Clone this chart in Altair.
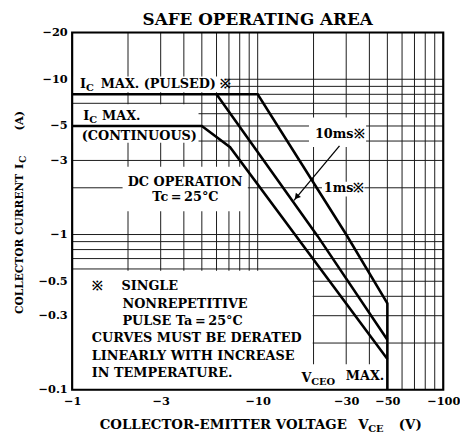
import altair as alt
import pandas as pd

FONT = "DejaVu Serif"

# ---- axis domains (magnitudes of VCE in V and IC in A) ----
x_domain = [1, 100]
y_domain = [0.1, 20]

# ---- grid (log-log) ----
grid_volts = [2, 3, 4, 5, 6, 7, 8, 9, 10, 20, 30, 40, 50, 60, 70, 80, 90]
grid_amps = [0.2, 0.3, 0.4, 0.5, 0.6, 0.7, 0.8, 0.9, 1, 2, 3, 4, 5, 6, 7, 8, 9, 10]

# ---- tick labels (magnitudes; shown with a minus sign) ----
x_ticks = [1, 3, 10, 30, 50, 100]
y_ticks = [0.1, 0.3, 0.5, 1, 3, 5, 10, 20]

# ---- SOA boundaries: |VCE| (V) and |IC| (A) ----
pulse1ms_v = [1, 10, 30, 50, 50]
pulse1ms_i = [8, 8, 1.0, 0.36, 0.1]
pulse10ms_v = [6, 21, 50]
pulse10ms_i = [8, 0.98, 0.21]
dc_v = [1, 5, 7.1, 50]
dc_i = [5, 5, 3.65, 0.158]

# ---- arrow from the "10ms" label to its curve ----
arrow_v = [27.6, 15.7]
arrow_i = [3.72, 1.66]
arrowhead_v = [16.2]
arrowhead_i = [1.74]

# ---- white label panels that interrupt the grid ----
panel_v1 = [1, 1, 1.87, 1, 16, 18.9, 22.2]
panel_v2 = [6.75, 4.8, 8.85, 19.8, 49.3, 38.4, 37.6]
panel_i1 = [8.25, 3.9, 1.41, 0.1, 0.1, 3.66, 1.76]
panel_i2 = [10.4, 6.9, 2.73, 0.585, 0.146, 5.68, 2.19]

xs = alt.Scale(type="log", domain=x_domain, nice=False)
ys = alt.Scale(type="log", domain=y_domain, nice=False)

axis_common = dict(labelExpr="'\u2212' + datum.value", grid=False, ticks=False, domain=False,
                   labelFont=FONT, labelFontWeight="bold", labelFontSize=11.5, labelColor="black",
                   labelFlush=False, labelOverlap=False, title="")
x_axis = alt.Axis(values=x_ticks, labelPadding=6, **axis_common)
y_axis = alt.Axis(values=y_ticks, labelPadding=5, **axis_common)


def X(field):
    return alt.X(f"{field}:Q", scale=xs, axis=x_axis)


def Y(field):
    return alt.Y(f"{field}:Q", scale=ys, axis=y_axis)


vgrid = alt.Chart(pd.DataFrame({"v": grid_volts})).mark_rule(color="#1a1a1a", strokeWidth=1).encode(
    x=X("v"))
hgrid = alt.Chart(pd.DataFrame({"i": grid_amps})).mark_rule(color="#1a1a1a", strokeWidth=1).encode(
    y=Y("i"))

panels = alt.Chart(pd.DataFrame({"v1": panel_v1, "v2": panel_v2, "i1": panel_i1, "i2": panel_i2})).mark_rect(
    color="white").encode(x=X("v1"), x2="v2:Q", y=Y("i1"), y2="i2:Q")


def curve(vs, is_, width=2.6):
    df = pd.DataFrame({"v": vs, "i": is_, "o": list(range(len(vs)))})
    return alt.Chart(df).mark_line(color="black", strokeWidth=width).encode(
        x=X("v"), y=Y("i"), order="o:Q")


arrow_line = curve(arrow_v, arrow_i, 1.3)
arrow_head = alt.Chart(pd.DataFrame({"v": arrowhead_v, "i": arrowhead_i})).mark_point(
    shape="triangle-up", filled=True, color="black", size=45, angle=220, opacity=1).encode(
    x=X("v"), y=Y("i"))

# plot frame
frame = alt.Chart(pd.DataFrame({"v1": [x_domain[0]], "v2": [x_domain[1]],
                                "i1": [y_domain[0]], "i2": [y_domain[1]]})).mark_rect(
    fillOpacity=0, stroke="black", strokeWidth=2.2).encode(
    x=X("v1"), x2="v2:Q", y=Y("i1"), y2="i2:Q")

# text pieces: (text, anchor |VCE|, anchor |IC|, size, dx, dy, align, angle)
pieces = [
    ("I", 1.103, 8.77, 13, 0, 0, "left", 0),
    ("C", 1.103, 8.77, 10, 6, 3, "left", 0),
    ("MAX. (PULSED) \u203b", 1.103, 8.77, 13, 21, 0, "left", 0),
    ("I", 1.148, 5.44, 13, 0, 0, "left", 0),
    ("C", 1.148, 5.44, 10, 6, 3, "left", 0),
    ("MAX.", 1.148, 5.44, 13, 19, 0, "left", 0),
    ("(CONTINUOUS)", 1.126, 4.06, 13, 0, 0, "left", 0),
    ("DC OPERATION", 4.06, 2.04, 13, 0, 0, "center", 0),
    ("Tc\u2009=\u200925\u00b0C", 4.08, 1.65, 13, 0, 0, "center", 0),
    ("10ms\u203b", 20.35, 4.16, 13, 0, 0, "left", 0),
    ("1ms\u203b", 22.72, 1.87, 13, 0, 0, "left", 0),
    ("\u203b", 1.277, 0.4386, 13, 0, 0, "left", 0),
    ("SINGLE", 1.277, 0.4386, 13, 30, 0, "left", 0),
    ("NONREPETITIVE", 1.867, 0.337, 13, 0, 0, "left", 0),
    ("PULSE Ta\u2009=\u200925\u00b0C", 1.867, 0.263, 13, 0, 0, "left", 0),
    ("CURVES MUST BE DERATED", 1.277, 0.202, 13, 0, 0, "left", 0),
    ("LINEARLY WITH INCREASE", 1.277, 0.155, 13, 0, 0, "left", 0),
    ("IN TEMPERATURE.", 1.277, 0.121, 13, 0, 0, "left", 0),
    ("V", 17.2, 0.1125, 13, 0, 0, "left", 0),
    ("CEO", 17.2, 0.1125, 10, 10, 3, "left", 0),
    ("MAX.", 17.2, 0.1125, 13, 45, -2, "left", 0),
    # axis titles
    ("COLLECTOR-EMITTER VOLTAGE", 1.409, 0.0557, 13.5, 0, 0, "left", 0),
    ("V", 1.409, 0.0557, 13.5, 262, 0, "left", 0),
    ("CE", 1.409, 0.0557, 10, 272, 3, "left", 0),
    ("(V)", 1.409, 0.0557, 13.5, 303, 0, "left", 0),
    ("COLLECTOR CURRENT", 0.542, 0.3075, 10.8, 0, 0, "left", 270),
    ("I", 0.542, 0.3075, 11.5, 147, 0, "left", 270),
    ("C", 0.542, 0.3075, 9.5, 153, 3, "left", 270),
    ("(A)", 0.542, 0.3075, 11.5, 186, 0, "left", 270),
]

text_layers = []
for t, v, i, size, dx, dy, align, angle in pieces:
    text_layers.append(
        alt.Chart(pd.DataFrame({"v": [v], "i": [i], "t": [t]})).mark_text(
            font=FONT, fontWeight="bold", fontSize=size, dx=dx, dy=dy, align=align,
            baseline="alphabetic", angle=angle, color="black").encode(
            x=X("v"), y=Y("i"), text="t:N"))

chart = alt.layer(
    vgrid, hgrid, panels,
    curve(pulse1ms_v, pulse1ms_i), curve(pulse10ms_v, pulse10ms_i), curve(dc_v, dc_i),
    arrow_line, arrow_head, frame, *text_layers
).properties(
    width=376, height=362,
    padding={"left": 5, "top": 0, "right": 0, "bottom": 0},
    title=alt.TitleParams("SAFE OPERATING AREA", font=FONT, fontSize=17, fontWeight="bold",
                          color="black", anchor="middle", frame="group", offset=-2),
).configure_view(stroke="transparent").configure(background="white")

chart.save("out.html", embed_options={"renderer": "svg", "actions": False})
